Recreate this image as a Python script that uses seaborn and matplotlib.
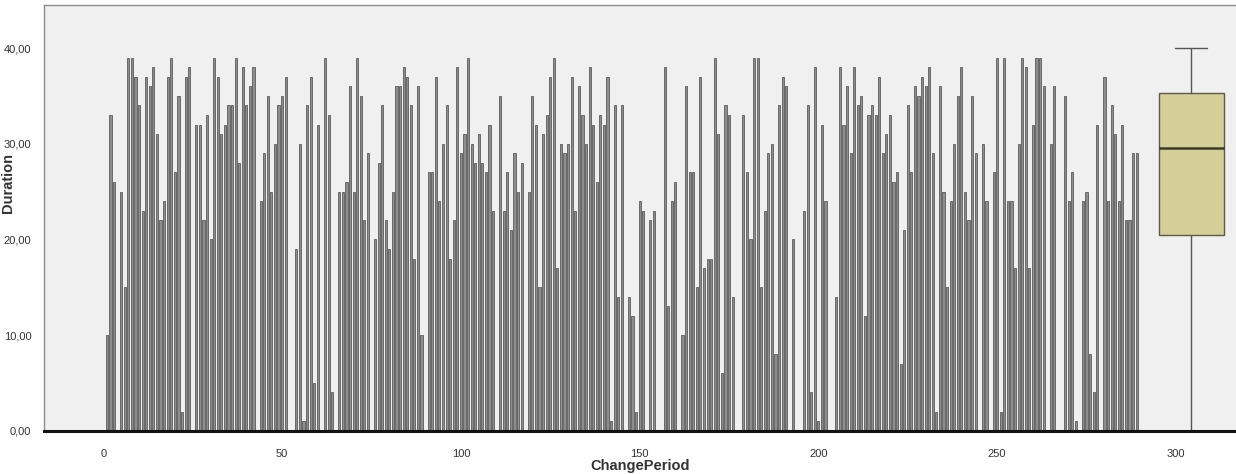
import numpy as np
import pandas as pd
import matplotlib
matplotlib.use("Agg")
import matplotlib.pyplot as plt
import seaborn as sns

# ---- data (ChangePeriod -> Duration); missing periods omitted ----
durations_all = [
    10, 33, 26, None, 25, 15, 39, 39, 37, 34,          # 1-10
    23, 37, 36, 38, 31, 22, 24, 37, 39, 27,            # 11-20
    35, 2, 37, 38, None, 32, 32, 22, 33, 20,           # 21-30
    39, 37, 31, 32, 34, 34, 39, 28, 38, 34,            # 31-40
    36, 38, None, 24, 29, 35, 25, 30, 34, 35,          # 41-50
    37, None, None, 19, 30, 1, 34, 37, 5, 32,          # 51-60
    None, 39, 33, 4, None, 25, 25, 26, 36, 25,         # 61-70
    39, 35, 22, 29, None, 20, 28, 34, 22, 19,          # 71-80
    25, 36, 36, 38, 37, 34, 18, 36, 10, None,          # 81-90
    27, 27, 37, 24, 30, 34, 18, 22, 38, 29,            # 91-100
    31, 39, 30, 28, 31, 28, 27, 32, 23, None,          # 101-110
    35, 23, 27, 21, 29, 25, 28, None, 25, 35,          # 111-120
    32, 15, 31, 33, 37, 39, 17, 30, 29, 30,            # 121-130
    37, 23, 36, 33, 30, 38, 32, 26, 33, 32,            # 131-140
    37, 1, 34, 14, 34, None, 14, 12, 2, 24,            # 141-150
    23, None, 22, 23, None, None, 38, 13, 24, 26,      # 151-160
    None, 10, 36, 27, 27, 15, 37, 17, 18, 18,          # 161-170
    39, 31, 6, 34, 33, 14, None, None, 33, 27,         # 171-180
    20, 39, 39, 15, 23, 29, 30, 8, 34, 37,             # 181-190
    36, None, 20, None, None, 23, 34, 4, 38, 1,        # 191-200
    32, 24, None, None, 14, 38, 32, 36, 29, 38,        # 201-210
    34, 35, 12, 33, 34, 33, 37, 29, 31, 33,            # 211-220
    26, 27, 7, 21, 34, 27, 36, 35, 37, 36,             # 221-230
    38, 29, 2, 36, 25, 15, 24, 30, 35, 38,             # 231-240
    25, 22, 35, 29, None, 30, 24, None, 27, 39,        # 241-250
    2, 39, 24, 24, 17, 30, 39, 38, 17, 32,             # 251-260
    39, 39, 36, None, 30, 36, None, None, 35, 24,      # 261-270
    27, 1, None, 24, 25, 8, 4, 32, None, 37,           # 271-280
    24, 34, 31, 24, 32, 22, 22, 29, 29,                # 281-289
]
periods_all = list(range(1, len(durations_all) + 1))

periods = [p for p, d in zip(periods_all, durations_all) if d is not None]
durations = [d for d in durations_all if d is not None]

# box-plot summary (box drawn right of the bars)
box_position = 304.3
box_q1 = 20.5
box_median = 29.5
box_q3 = 35.3
box_whisker_low = 0.0
box_whisker_high = 40.0

x_ticks = [0, 50, 100, 150, 200, 250, 300]
y_ticks = [0, 10, 20, 30, 40]
y_tick_labels = ["0,00", "10,00", "20,00", "30,00", "40,00"]

# ---- style ----
sns.set_theme(style="white")
plt.rcParams["font.family"] = ["Liberation Sans", "DejaVu Sans"]

fig = plt.figure(figsize=(12.36, 4.74), dpi=100)
ax = fig.add_axes([44 / 1236, 1 - 430.7 / 474, 1 - 44 / 1236, (430.7 - 5) / 474])
ax.set_facecolor("#f0f0f0")

df = pd.DataFrame({"ChangePeriod": periods, "Duration": durations})
sns.barplot(data=df, x="ChangePeriod", y="Duration", native_scale=True,
            width=0.6, color="#8e8e8e", saturation=1, edgecolor="#3a3a3a",
            linewidth=0.45, errorbar=None, ax=ax)

ax.bxp([{"med": box_median, "q1": box_q1, "q3": box_q3,
         "whislo": box_whisker_low, "whishi": box_whisker_high, "fliers": []}],
       positions=[box_position], widths=[18.2], capwidths=[8.9],
       patch_artist=True, showfliers=False, manage_ticks=False,
       boxprops=dict(facecolor="#d4cf97", edgecolor="#5a5a4a", linewidth=1.0),
       medianprops=dict(color="#3a3a2a", linewidth=1.8),
       whiskerprops=dict(color="#555555", linewidth=1.0),
       capprops=dict(color="#555555", linewidth=1.0))

ax.set_xlim(-16.6, 316.8)
ax.set_ylim(0, 44.5)
ax.set_xticks(x_ticks)
ax.set_xticklabels([str(t) for t in x_ticks])
ax.set_yticks(y_ticks)
ax.set_yticklabels(y_tick_labels)
ax.tick_params(axis="both", which="both", length=5, width=0.8, color="#555555",
               labelsize=8, labelcolor="#333333", direction="out", pad=4)
ax.tick_params(axis="x", pad=8)

for side in ["top", "left", "right"]:
    ax.spines[side].set_color("#8c8c8c")
    ax.spines[side].set_linewidth(1.0)
ax.spines["right"].set_visible(False)
ax.spines["bottom"].set_color("#111111")
ax.spines["bottom"].set_linewidth(2.2)

ax.set_xlabel("")
ax.set_ylabel("")
fig.text(0.5 * (44 + 1236) / 1236, 1 - 466 / 474, "ChangePeriod", ha="center",
         va="center", fontsize=10.5, fontweight="bold", color="#333333")
fig.text(8 / 1236, 1 - 183 / 474, "Duration", ha="center", va="center",
         rotation=90, fontsize=10.5, fontweight="bold", color="#333333")

fig.savefig("out.png", dpi=100)
